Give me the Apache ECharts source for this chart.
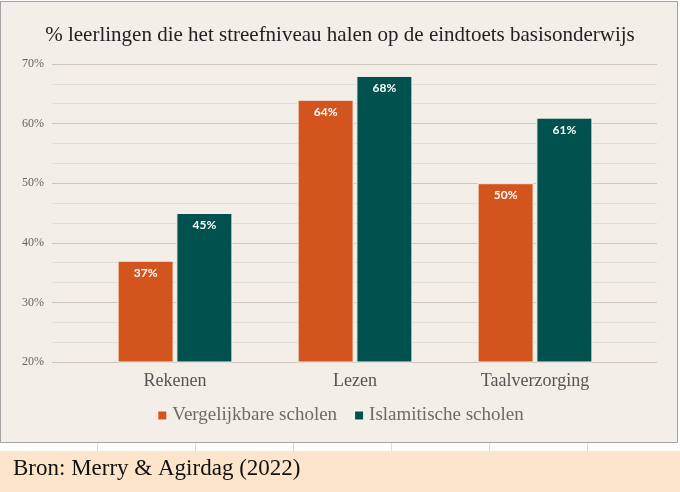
<!DOCTYPE html>
<html>
<head>
<meta charset="utf-8">
<script src="https://cdn.jsdelivr.net/npm/echarts@6/dist/echarts.min.js"></script>
<style>
html,body{margin:0;padding:0;background:#fff;}
#c{width:680px;height:492px;}
</style>
</head>
<body>
<div id="c"></div>
<script>
var titleText = '% leerlingen die het streefniveau halen op de eindtoets basisonderwijs';
var sourceText = 'Bron: Merry & Agirdag (2022)';
var categories = ['Rekenen', 'Lezen', 'Taalverzorging'];
var seriesNames = ['Vergelijkbare scholen', 'Islamitische scholen'];
var vergelijkbare = [37, 64, 50];
var islamitische = [45, 68, 61];
var yMin = 20, yMax = 70, yStep = 10;

var chart = echarts.init(document.getElementById('c'), null, {renderer: 'canvas'});
var serif = "'Liberation Serif', 'DejaVu Serif', serif";
var bg = '#f3eee8';

var cellLines = [];
for (var i = 1; i < 7; i++) {
  cellLines.push({type: 'line', silent: true, z: -9,
    shape: {x1: i * 98 - 0.5, y1: 443, x2: i * 98 - 0.5, y2: 452},
    style: {stroke: '#dcdcdc', lineWidth: 1}});
}

var option = {
  backgroundColor: '#ffffff',
  animation: false,
  color: ['#d4541d', '#01524f'],
  title: {
    text: titleText,
    left: 'center',
    top: 20,
    textStyle: {fontFamily: serif, fontSize: 21, fontWeight: 'normal', color: '#222'}
  },
  graphic: [
    {type: 'rect', silent: true, z: -10, shape: {x: 0.5, y: 1.5, width: 677, height: 441},
     style: {fill: bg, stroke: '#a3a3a3', lineWidth: 1}},
    {type: 'rect', silent: true, z: -10, shape: {x: 0, y: 451, width: 680, height: 41},
     style: {fill: '#fde5cc'}}
  ].concat(cellLines).concat([
    {type: 'text', left: 13, top: 457, silent: true,
     style: {text: sourceText, font: "23px 'Liberation Serif', serif", fill: '#111'}}
  ]),
  legend: {
    top: 401,
    left: 'center',
    icon: 'rect',
    itemWidth: 10,
    itemHeight: 10,
    itemGap: 16,
    data: seriesNames,
    textStyle: {fontFamily: serif, fontSize: 19, color: '#6b6b6b'}
  },
  grid: [
    {left: 52, right: 23, top: 64, bottom: 130},
    {left: 85, right: 55, top: 64, bottom: 130}
  ],
  xAxis: [
    {gridIndex: 0, type: 'value', show: false, min: 0, max: 1},
    {gridIndex: 1, type: 'category', data: categories,
     axisLine: {show: false}, axisTick: {show: false},
     axisLabel: {fontFamily: serif, fontSize: 18, color: '#555', margin: 10}}
  ],
  yAxis: [
    {gridIndex: 0, type: 'value', min: yMin, max: yMax, interval: yStep,
     axisLine: {show: false}, axisTick: {show: false},
     axisLabel: {formatter: '{value}%', fontFamily: serif, fontSize: 12, color: '#666', margin: 8},
     splitLine: {lineStyle: {color: '#cdc7bf', width: 1}},
     minorTick: {show: false, splitNumber: 3},
     minorSplitLine: {show: true, lineStyle: {color: '#e2ddd6', width: 1}}},
    {gridIndex: 1, type: 'value', min: yMin, max: yMax, interval: yStep, show: false,
     splitLine: {show: false}}
  ],
  series: [
    {name: seriesNames[0], type: 'bar', xAxisIndex: 1, yAxisIndex: 1,
     data: vergelijkbare, barWidth: 56, barGap: '5%',
     itemStyle: {borderColor: '#f6f1ea', borderWidth: 1},
     label: {show: true, position: 'insideTop', distance: 6, formatter: '{c}%',
             color: '#fff', fontWeight: 'bold', fontSize: 12, fontFamily: 'Lato, sans-serif'}},
    {name: seriesNames[1], type: 'bar', xAxisIndex: 1, yAxisIndex: 1,
     data: islamitische, barWidth: 56, barGap: '5%',
     itemStyle: {borderColor: '#f6f1ea', borderWidth: 1},
     label: {show: true, position: 'insideTop', distance: 6, formatter: '{c}%',
             color: '#fff', fontWeight: 'bold', fontSize: 12, fontFamily: 'Lato, sans-serif'}}
  ]
};
chart.setOption(option);
</script>
</body>
</html>
